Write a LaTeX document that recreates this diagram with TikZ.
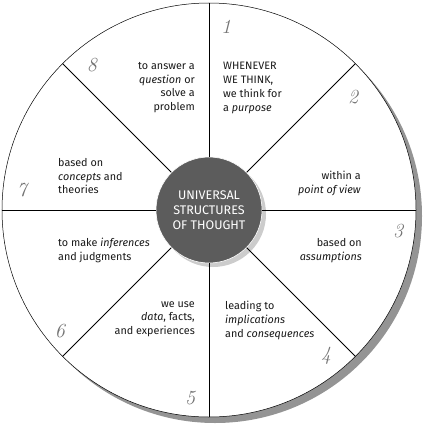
\documentclass[tikz,border=0pt]{standalone}
\usepackage{fontspec}
\setsansfont{Fira Sans}
\usepackage{tikz}
\usetikzlibrary{positioning}
\colorlet{colHub}{black!64}
\colorlet{colHubShade}{black!20}
\colorlet{colRim}{black!42}
\colorlet{colNum}{black!55}
\tikzset{
	segtext/.style={inner sep=0pt, font=\sffamily\fontsize{10.8}{13.8}\selectfont, text=black!90},
	segnum/.style={inner sep=0pt, font=\rmfamily\itshape\fontsize{20}{20}\selectfont, text=colNum},
	hub/.style={circle, draw=white, line width=0.6pt, fill=colHub, minimum size=106pt, inner sep=0pt, align=center, text=white, font=\sffamily\fontsize{12.5}{15}\selectfont},
	divider/.style={line width=0.9pt},
}
\begin{document}
\begin{tikzpicture}[x=1pt, y=1pt]
	\useasboundingbox (-209,-216) rectangle (218,210);

	% Wheel with rim shadow
	\fill[colRim] (6,-6) circle (207);
	\draw[fill=white, line width=0.5pt] (0,0) circle (207);

	% Hub
	\fill[colHubShade] (4,-4) circle (53);
	\node[hub] (hub) at (0,0) {UNIVERSAL\\STRUCTURES\\OF THOUGHT};

	% Dividers
	\foreach \a in {0,45,...,315}
		\draw[divider] (hub.\a) -- (\a:207);

	% Segment 1
	\node[segnum] (num1) at (17,183) {1};
	\node[segtext, anchor=north west, align=left] (seg1) at (14,148) {WHENEVER\\WE THINK,\\we think for\\a \textit{purpose}};

	% Segment 2
	\node[segnum] (num2) at (144,113) {2};
	\node[segtext, anchor=north east, align=right] (seg2) at (152,39) {within a\\\textit{point of view}};

	% Segment 3
	\node[segnum] (num3) at (189,-21) {3};
	\node[segtext, anchor=north east, align=right] (seg3) at (153,-28) {based on\\\textit{assumptions}};

	% Segment 4
	\node[segnum] (num4) at (117,-146) {4};
	\node[segtext, anchor=north west, align=left] (seg4) at (16,-91) {leading to\\\textit{implications}\\and \textit{consequences}};

	% Segment 5
	\node[segnum] (num5) at (-19,-188) {5};
	\node[segtext, anchor=north east, align=right] (seg5) at (-14,-91) {we use\\\textit{data}, facts,\\and experiences};

	% Segment 6
	\node[segnum] (num6) at (-149,-121) {6};
	\node[segtext, anchor=north west, align=left] (seg6) at (-151,-28) {to make \textit{inferences}\\and judgments};

	% Segment 7
	\node[segnum] (num7) at (-187,20) {7};
	\node[segtext, anchor=north west, align=left] (seg7) at (-151,52) {based on\\\textit{concepts} and\\theories};

	% Segment 8
	\node[segnum] (num8) at (-117,145) {8};
	\node[segtext, anchor=north east, align=right] (seg8) at (-14,148) {to answer a\\\textit{question} or\\solve a\\problem};
\end{tikzpicture}
\end{document}
